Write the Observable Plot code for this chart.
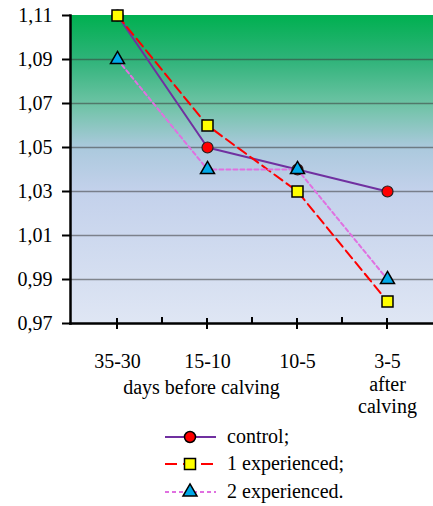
<!DOCTYPE html>
<html>
<head>
<meta charset="utf-8">
<script src="https://cdn.jsdelivr.net/npm/d3@7"></script>
<script src="https://cdn.jsdelivr.net/npm/@observablehq/plot@0.6"></script>
</head>
<body style="margin:0;background:#fff">
<div id="wrap" style="width:433px"></div>
<script>
const categories = ["35-30", "15-10", "10-5", "3-5"];
const control = [1.11, 1.05, 1.04, 1.03];
const exp1 = [1.11, 1.06, 1.03, 0.98];
const exp2 = [1.09, 1.04, 1.04, 0.99];
const yTicks = [0.97, 0.99, 1.01, 1.03, 1.05, 1.07, 1.09, 1.11];
const seriesNames = ["control;", "1 experienced;", "2 experienced."];

const rows = (vals, s) => categories.map((c, i) => ({ c, v: vals[i], s }));
const dControl = rows(control, "control");
const dExp1 = rows(exp1, "exp1");
const dExp2 = rows(exp2, "exp2");

function background(index, scales, values, dims) {
  const g = d3.create("svg:g");
  const grad = g.append("defs").append("linearGradient")
    .attr("id", "plotbg").attr("x1", 0).attr("y1", 0).attr("x2", 0).attr("y2", 1);
  [["0%", "#00b050"], ["14%", "#2db378"], ["29%", "#6ec3a5"], ["43%", "#abc9dd"], ["57%", "#c3d1eb"], ["100%", "#dfe6f4"]]
    .forEach(([o, c]) => grad.append("stop").attr("offset", o).attr("stop-color", c));
  const y0 = scales.y(yTicks[yTicks.length - 1]);
  const y1 = scales.y(yTicks[0]);
  g.append("rect")
    .attr("x", dims.marginLeft).attr("y", y0)
    .attr("width", dims.width - dims.marginLeft - dims.marginRight)
    .attr("height", y1 - y0)
    .attr("fill", "url(#plotbg)");
  return g.node();
}

function xTicks(index, scales, values, dims) {
  const g = d3.create("svg:g").attr("stroke", "#000").attr("stroke-width", 2);
  const yb = dims.height - dims.marginBottom;
  categories.forEach((c, i) => {
    const x = scales.x(c);
    g.append("line").attr("x1", x).attr("x2", x).attr("y1", yb - 5).attr("y2", yb + 6);
    if (i > 0) {
      const xm = (scales.x(categories[i - 1]) + x) / 2;
      g.append("line").attr("x1", xm).attr("x2", xm).attr("y1", yb - 6).attr("y2", yb);
    }
  });
  return g.node();
}

const chart = Plot.plot({
  width: 433,
  height: 415,
  marginLeft: 70,
  marginRight: 0,
  marginTop: 15,
  marginBottom: 92,
  style: { fontFamily: "Liberation Serif", fontSize: "20px", background: "transparent", overflow: "visible" },
  x: { type: "point", domain: categories, padding: 0.5, label: null },
  y: { domain: [0.97, 1.11], label: null },
  marks: [
    background,
    Plot.ruleY(yTicks.slice(1, -1), { stroke: "#3a3a3a", strokeOpacity: 0.55, strokeWidth: 1.5 }),
    Plot.axisY({
      ticks: yTicks, tickSize: 8, tickPadding: 10, fontSize: 20, strokeWidth: 2, stroke: "#000",
      tickFormat: d => d.toFixed(2).replace(".", ","), label: null, fill: "#000"
    }),
    Plot.axisX({
      tickSize: 0, tickPadding: 29, fontSize: 20, lineHeight: 1.12, label: null, fill: "#000",
      tickFormat: d => d === "3-5" ? "3-5\nafter\ncalving" : d
    }),
    Plot.text([{ c: "15-10", t: "days before calving" }], {
      x: "c", text: "t", frameAnchor: "bottom", dy: 64, dx: -6, fontSize: 20, fill: "#000", lineAnchor: "middle"
    }),
    Plot.frame({ anchor: "left", stroke: "#000", strokeWidth: 2.5 }),
    Plot.frame({ anchor: "bottom", stroke: "#000", strokeWidth: 2.5 }),
    xTicks,
    Plot.line(dControl, { x: "c", y: "v", stroke: "#7030a0", strokeWidth: 2 }),
    Plot.line(dExp1, { x: "c", y: "v", stroke: "#ff0000", strokeWidth: 2, strokeDasharray: "10,5" }),
    Plot.line(dExp2, { x: "c", y: "v", stroke: "#e070e0", strokeWidth: 2, strokeDasharray: "4,3" }),
    Plot.dot(dControl, { x: "c", y: "v", r: 5.5, symbol: "circle", fill: "#ff0000", stroke: "#222", strokeWidth: 1.2 }),
    Plot.dot(dExp1, { x: "c", y: "v", r: 6.2, symbol: "square", fill: "#ffff00", stroke: "#000", strokeWidth: 1.5 }),
    Plot.dot(dExp2, { x: "c", y: "v", r: 5.2, symbol: "triangle", fill: "#00a8e8", stroke: "#000", strokeWidth: 1.5 })
  ]
});

const wrap = document.getElementById("wrap");
wrap.appendChild(chart);

// Legend
const legendSpec = [
  { name: seriesNames[0], stroke: "#7030a0", dash: null, symbol: d3.symbolCircle, size: Math.PI * 5.5 * 5.5, fill: "#ff0000" },
  { name: seriesNames[1], stroke: "#ff0000", dash: "12,6", symbol: d3.symbolSquare, size: 121, fill: "#ffff00" },
  { name: seriesNames[2], stroke: "#e070e0", dash: "4,3", symbol: d3.symbolTriangle, size: Math.PI * 5.2 * 5.2, fill: "#00a8e8" }
];
const leg = d3.select(wrap).append("svg").attr("width", 433).attr("height", 91).style("display", "block");
const rowY = [22, 49, 77];
legendSpec.forEach((s, i) => {
  const g = leg.append("g").attr("transform", `translate(0,${rowY[i]})`);
  g.append("line").attr("x1", 165).attr("x2", 216).attr("y1", 0).attr("y2", 0)
    .attr("stroke", s.stroke).attr("stroke-width", 2).attr("stroke-dasharray", s.dash);
  g.append("path").attr("d", d3.symbol(s.symbol, s.size)()).attr("transform", "translate(190,0)")
    .attr("fill", s.fill).attr("stroke", "#000").attr("stroke-width", 1.5);
  g.append("text").attr("x", 227).attr("y", 0).attr("dy", "0.3em")
    .attr("font-family", "Liberation Serif")
    .attr("font-size", 20).attr("fill", "#000").text(s.name);
});
</script>
</body>
</html>
